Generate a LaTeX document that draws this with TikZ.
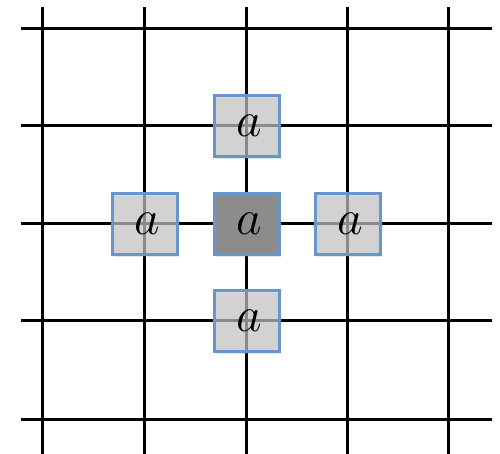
\documentclass[tikz,border=0pt]{standalone}
\usepackage{tikz}
\usetikzlibrary{shadows}
\definecolor{cellblue}{RGB}{102,150,204}
\definecolor{cellgray}{RGB}{200,200,200}
\definecolor{celldark}{RGB}{140,140,140}

\begin{document}
\begin{tikzpicture}[
    x=0.5pt, y=-0.5pt,
    gridline/.style={line width=1.5pt, black},
    cell/.style={rectangle, draw=cellblue, line width=1.3pt, fill=cellgray,
                 fill opacity=0.65, text opacity=1,
                 minimum width=32.5pt, minimum height=30.5pt, inner sep=0pt,
                 font=\fontsize{30}{30}\selectfont,
                 drop shadow={shadow xshift=0.8pt, shadow yshift=-1.5pt, opacity=0.2}},
    centre/.style={cell, fill=celldark, fill opacity=1},
]
\useasboundingbox (0,0) rectangle (500,454);

% grid
\foreach \gx in {43,145,247,348,449}
  \draw[gridline] (\gx,7) -- (\gx,454);
\foreach \gy in {29,126,224,321,420}
  \draw[gridline] (21,\gy) -- (492,\gy);

% cells
\node[centre] (mid)   at (247,224) {\hspace{2pt}$a$};
\node[cell]   (up)    at (247,126) {\hspace{2pt}$a$};
\node[cell]   (down)  at (247,321) {\hspace{2pt}$a$};
\node[cell]   (left)  at (145,224) {\hspace{2pt}$a$};
\node[cell]   (right) at (348,224) {\hspace{2pt}$a$};

\end{tikzpicture}
\end{document}
